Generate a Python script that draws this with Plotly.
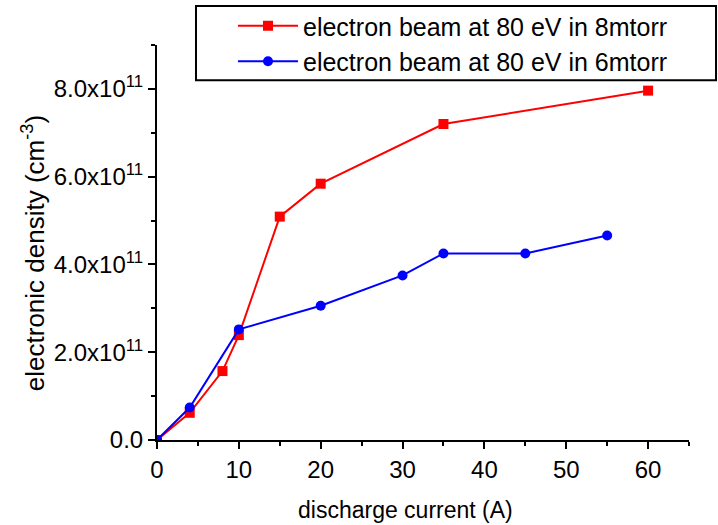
import plotly.graph_objects as go

x_8m = [0, 4, 8, 10, 15, 20, 35, 60]
y_8m = [0, 0.62e11, 1.57e11, 2.39e11, 5.09e11, 5.84e11, 7.2e11, 7.96e11]

x_6m = [0, 4, 10, 20, 30, 35, 45, 55]
y_6m = [0, 0.74e11, 2.52e11, 3.06e11, 3.75e11, 4.25e11, 4.25e11, 4.66e11]

y_tickvals = [0, 2e11, 4e11, 6e11, 8e11]
y_ticktext = ["0.0", "2.0x10<sup>11</sup>", "4.0x10<sup>11</sup>", "6.0x10<sup>11</sup>", "8.0x10<sup>11</sup>"]

x_title = "discharge current (A)"
y_title = "electronic density (cm<sup>-3</sup>)"

font_family = "Liberation Sans, Arial, sans-serif"

fig = go.Figure()
fig.add_trace(go.Scatter(
    x=x_8m, y=y_8m, mode="lines+markers",
    name="electron beam at 80 eV in 8mtorr",
    line=dict(color="#ff0000", width=2),
    marker=dict(symbol="square", size=10, color="#ff0000"),
))
fig.add_trace(go.Scatter(
    x=x_6m, y=y_6m, mode="lines+markers",
    name="electron beam at 80 eV in 6mtorr",
    line=dict(color="#0000ff", width=2),
    marker=dict(symbol="circle", size=10, color="#0000ff"),
))

fig.update_layout(
    width=718, height=525,
    margin=dict(l=157, r=29, t=45, b=85, autoexpand=False),
    paper_bgcolor="white", plot_bgcolor="white",
    font=dict(family=font_family, size=23, color="black"),
    showlegend=True,
    legend=dict(
        xref="container", yref="container",
        x=233 / 718, y=1 - 3 / 525, xanchor="left", yanchor="top",
        borderwidth=0, bgcolor="rgba(0,0,0,0)",
        font=dict(size=25), tracegroupgap=0, itemwidth=60,
    ),
    shapes=[dict(
        type="rect", xref="paper", yref="paper",
        x0=0.0733, x1=1.0508, y0=0.911, y1=1.0987,
        line=dict(color="black", width=2), fillcolor="rgba(0,0,0,0)", layer="above",
    )],
    annotations=[
        dict(text=x_title, xref="paper", yref="paper", x=0.468, y=-0.177,
             xanchor="center", yanchor="middle", showarrow=False, font=dict(size=23)),
        dict(text=y_title, xref="paper", yref="paper", x=(33 - 157) / 532, y=0.473,
             xanchor="center", yanchor="middle", textangle=-90, showarrow=False, font=dict(size=26)),
    ],
)
fig.update_xaxes(
    range=[0, 65], tickmode="linear", tick0=0, dtick=10,
    showline=True, linecolor="black", linewidth=2,
    ticks="outside", ticklen=7, tickwidth=2, tickcolor="black",
    minor=dict(ticks="outside", dtick=5, tick0=0, ticklen=4, tickwidth=2, tickcolor="black"),
    showgrid=False, zeroline=False, automargin=False,
    tickfont=dict(size=24),
)
fig.update_yaxes(
    range=[0, 9e11], tickmode="array", tickvals=y_tickvals, ticktext=y_ticktext,
    showline=True, linecolor="black", linewidth=2,
    ticks="outside", ticklen=7, tickwidth=2, tickcolor="black",
    minor=dict(ticks="outside", dtick=1e11, tick0=0, ticklen=4, tickwidth=2, tickcolor="black"),
    showgrid=False, zeroline=False, automargin=False,
    tickfont=dict(size=24),
)

fig.write_html("out.html")
